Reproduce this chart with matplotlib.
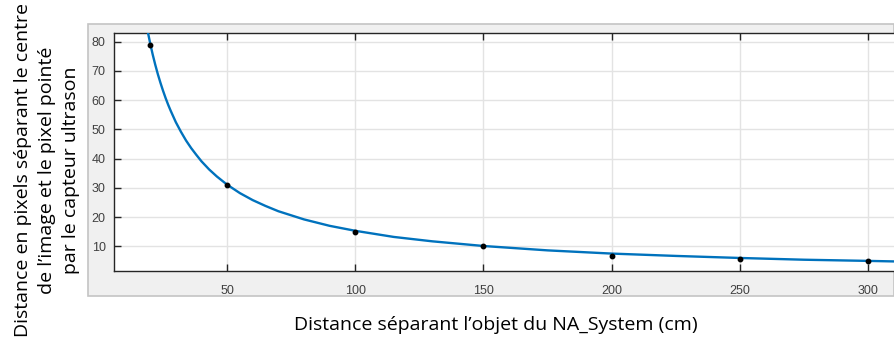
import matplotlib
matplotlib.use("Agg")
import matplotlib.pyplot as plt
from matplotlib.patches import Rectangle

# measured points
dist_cm = [20, 50, 100, 150, 200, 250, 300]
dist_px = [79, 31, 15, 10, 6.7, 5.8, 5.0]

# fitted curve
curve_x = [19.2, 20, 21, 22, 23, 24, 25, 26, 27, 28, 30, 32, 34, 36, 38, 40, 43, 46,
           50, 55, 60, 65, 70, 80, 90, 100, 115, 130, 150, 175, 200, 225, 250, 275,
           300, 311]
curve_y = [82.9, 79.5, 75.6, 72.1, 68.9, 66.0, 63.3, 60.8, 58.5, 56.4, 52.5, 49.2,
           46.2, 43.6, 41.3, 39.1, 36.3, 33.9, 31.1, 28.2, 25.8, 23.8, 22.0, 19.2,
           17.0, 15.3, 13.2, 11.7, 10.1, 8.6, 7.5, 6.7, 6.0, 5.4, 5.0, 4.8]

xticks = [50, 100, 150, 200, 250, 300]
yticks = [10, 20, 30, 40, 50, 60, 70, 80]

blue = (0, 0.447, 0.741)
tick_col = "#404040"

fig = plt.figure(figsize=(8.94, 3.4), dpi=100)

# grey matlab figure panel
panel = Rectangle((88 / 894, 1 - 296 / 340), 1 - 88 / 894, (296 - 24) / 340,
                  transform=fig.transFigure, facecolor="#f0f0f0",
                  edgecolor="#c4c4c4", linewidth=1.2, zorder=-1)
fig.add_artist(panel)

ax = fig.add_axes([114 / 894, 1 - 271 / 340, 1 - 114 / 894, (271 - 33) / 340])
ax.set_zorder(2)
ax.set_facecolor("white")

ax.plot(curve_x, curve_y, color=blue, linewidth=1.7, zorder=3)
ax.plot(dist_cm, dist_px, "o", color="black", markersize=3.2, zorder=4)

ax.set_xlim(5.9, 310.1)
ax.set_ylim(1.54, 83.0)
ax.set_xticks(xticks)
ax.set_yticks(yticks)
ax.grid(True, color="#e3e3e3", linewidth=1.0)
ax.set_axisbelow(True)

for side in ["left", "bottom", "top"]:
    ax.spines[side].set_color("#262626")
    ax.spines[side].set_linewidth(1.0)
ax.spines["right"].set_visible(False)

ax.tick_params(axis="x", direction="in", top=True, length=5, width=1,
               color="#262626", labelcolor=tick_col, labelsize=9, pad=10)
ax.tick_params(axis="y", direction="in", length=5, width=1,
               color="#262626", labelcolor=tick_col, labelsize=9, pad=6)
for lab in ax.get_xticklabels() + ax.get_yticklabels():
    lab.set_family("Liberation Sans")

fig.text(0.555, 1 - 325 / 340, "Distance séparant l\u2019objet du NA_System (cm)",
         ha="center", va="center", fontsize=14, family="Open Sans", color="black")
fig.text(47 / 894, 0.5,
         "Distance en pixels séparant le centre\nde l\u2019image et le pixel pointé\npar le capteur ultrason",
         ha="center", va="center", rotation=90, multialignment="center",
         fontsize=14, family="Open Sans", color="black", linespacing=1.45)

fig.savefig("out.png", dpi=100)
